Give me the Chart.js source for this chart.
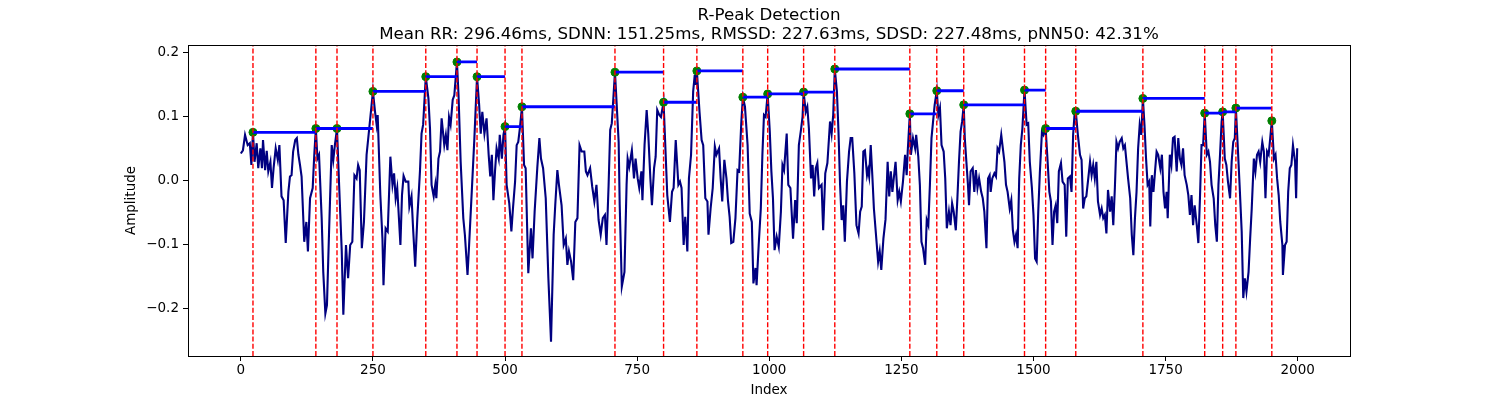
<!DOCTYPE html>
<html>
<head>
<meta charset="utf-8">
<script src="https://cdn.jsdelivr.net/npm/chart.js@4/dist/chart.umd.min.js"></script>
<style>
  html, body { margin: 0; padding: 0; background: #fff; }
  #wrap { width: 1500px; height: 400px; }
</style>
</head>
<body>
<div id="wrap"><canvas id="chart" width="1500" height="400"></canvas></div>
<script>
// filtered ECG trace, [index, amplitude]
const ecgSamples = [
  [0,0.043],[4,0.048],[8,0.072],[13,0.056],[17,0.059],[20,0.025],[23,0.076],[26,0.030],[30,0.059],[33,0.020],
  [37,0.051],[40,0.020],[42,0.064],[46,0.017],[49,0.047],[52,0.015],[56,0.030],[59,-0.011],[62,0.020],[66,0.051],
  [70,0.033],[73,0.056],[77,-0.024],[81,-0.030],[85,-0.097],[90,-0.017],[93,0.007],[96,0.009],[99,0.046],[103,0.064],
  [106,0.067],[109,0.041],[112,0.025],[115,0.007],[120,-0.095],[124,-0.064],[127,-0.110],[131,-0.027],[136,-0.011],[139,0.041],
  [142,0.082],[145,0.035],[148,0.041],[153,-0.058],[156,-0.142],[160,-0.207],[163,-0.194],[167,-0.079],[172,0.056],[175,0.033],
  [178,0.056],[182,0.082],[186,-0.006],[191,-0.110],[194,-0.209],[199,-0.100],[203,-0.152],[207,-0.100],[211,-0.095],[215,0.009],
  [219,0.004],[222,0.025],[225,0.017],[229,-0.105],[233,-0.064],[238,0.041],[243,0.082],[247,0.115],[250,0.140],[254,0.108],
  [257,0.088],[259,0.103],[264,-0.022],[268,-0.090],[270,-0.163],[274,-0.074],[278,-0.079],[283,0.038],[287,-0.006],[290,0.012],
  [293,-0.027],[296,-0.011],[302,-0.100],[305,-0.022],[308,0.008],[312,-0.001],[317,-0.001],[319,-0.040],[323,-0.024],[326,-0.074],
  [330,-0.134],[334,-0.058],[339,0.015],[342,0.074],[345,0.088],[350,0.163],[355,0.129],[358,0.082],[361,-0.006],[365,-0.024],
  [368,-0.006],[370,-0.027],[374,0.035],[377,0.046],[380,0.098],[385,0.056],[388,0.072],[391,0.048],[394,0.100],[397,0.088],
  [401,0.127],[404,0.134],[409,0.186],[412,0.134],[416,0.030],[421,-0.058],[424,-0.084],[429,-0.147],[432,-0.100],[437,-0.017],
  [442,0.067],[447,0.163],[451,0.119],[454,0.074],[457,0.108],[461,0.074],[465,0.098],[469,0.041],[472,0.007],[475,0.041],
  [478,-0.030],[481,0.015],[484,0.051],[488,0.035],[490,0.072],[494,0.035],[497,0.072],[500,0.085],[503,-0.006],[508,-0.035],
  [512,-0.079],[515,-0.043],[519,-0.001],[522,0.056],[525,0.061],[528,0.082],[532,0.116],[536,0.025],[539,0.020],[544,-0.144],
  [549,-0.074],[552,-0.121],[556,-0.048],[561,0.020],[565,0.067],[568,0.035],[572,0.020],[577,-0.027],[582,-0.152],[587,-0.251],
  [592,-0.084],[595,-0.038],[599,0.017],[602,-0.006],[607,-0.038],[611,-0.100],[615,-0.090],[618,-0.131],[621,-0.110],[625,-0.126],
  [629,-0.155],[633,-0.064],[637,-0.058],[641,0.056],[645,0.046],[650,0.046],[653,0.015],[656,0.009],[661,0.020],[665,-0.009],
  [669,-0.032],[673,-0.006],[677,-0.061],[681,-0.084],[685,-0.058],[689,-0.053],[692,-0.100],[696,-0.006],[699,0.080],[702,0.090],
  [708,0.170],[711,0.124],[715,0.061],[717,-0.038],[721,-0.165],[726,-0.142],[730,-0.006],[732,0.035],[735,0.022],[740,0.048],
  [744,0.004],[747,0.035],[751,0.004],[754,-0.011],[758,0.015],[760,-0.030],[764,0.056],[768,0.111],[771,0.074],[775,0.004],
  [778,-0.038],[782,0.020],[785,0.038],[788,0.111],[792,0.103],[795,0.100],[800,0.123],[803,0.061],[807,-0.022],[812,-0.064],
  [816,-0.017],[819,-0.011],[823,0.064],[828,-0.006],[831,-0.001],[834,-0.011],[838,-0.100],[841,-0.056],[845,-0.110],[848,0.004],
  [852,0.041],[856,0.140],[859,0.166],[861,0.150],[863,0.172],[868,0.108],[872,0.064],[875,0.056],[879,-0.027],[883,-0.032],
  [885,-0.084],[889,-0.043],[893,-0.011],[897,0.054],[900,0.041],[905,0.051],[908,0.004],[911,-0.032],[915,0.033],[919,0.004],
  [922,-0.032],[925,-0.056],[928,-0.097],[932,-0.095],[936,-0.058],[940,0.017],[943,0.015],[947,0.090],[950,0.131],[954,0.116],
  [959,0.056],[963,-0.051],[967,-0.064],[970,-0.160],[974,-0.136],[976,-0.163],[980,-0.100],[984,-0.043],[987,0.041],[990,0.103],
  [993,0.100],[997,0.136],[1001,0.077],[1004,0.015],[1007,-0.027],[1010,-0.108],[1014,-0.087],[1018,-0.103],[1022,-0.048],[1025,0.025],
  [1028,0.017],[1033,0.074],[1036,-0.006],[1040,-0.011],[1045,-0.090],[1049,-0.030],[1052,-0.066],[1056,0.056],[1060,0.080],[1063,0.100],
  [1065,0.139],[1069,0.108],[1072,0.116],[1075,0.082],[1079,0.004],[1082,0.025],[1085,-0.024],[1088,0.020],[1091,0.028],[1094,-0.011],
  [1099,-0.006],[1102,-0.077],[1106,0.012],[1110,0.028],[1115,0.093],[1118,0.074],[1121,0.103],[1124,0.175],[1128,0.140],[1131,0.077],
  [1134,-0.006],[1137,-0.061],[1140,-0.038],[1143,-0.095],[1147,-0.001],[1151,0.046],[1154,0.067],[1157,0.067],[1161,0.012],[1165,-0.069],
  [1169,-0.082],[1172,-0.048],[1175,-0.040],[1178,0.046],[1181,0.048],[1185,0.009],[1187,0.017],[1189,0.007],[1192,0.056],[1195,0.009],
  [1198,-0.043],[1203,-0.095],[1206,-0.126],[1209,-0.110],[1212,-0.139],[1216,-0.090],[1220,-0.060],[1224,0.030],[1227,-0.024],[1230,0.015],
  [1233,-0.017],[1236,0.007],[1239,0.030],[1243,-0.030],[1246,-0.017],[1249,-0.032],[1253,-0.001],[1257,0.041],[1260,0.009],[1262,0.046],
  [1266,0.105],[1268,0.041],[1272,0.067],[1276,0.051],[1278,0.072],[1282,0.038],[1285,-0.006],[1288,-0.095],[1291,-0.105],[1295,-0.131],
  [1298,-0.061],[1301,-0.069],[1304,-0.006],[1307,0.067],[1310,0.093],[1313,0.119],[1317,0.141],[1320,0.103],[1323,0.114],[1326,0.056],
  [1330,0.046],[1333,0.004],[1336,-0.074],[1340,-0.048],[1343,-0.069],[1346,-0.035],[1349,-0.048],[1353,-0.077],[1356,-0.027],[1359,0.030],
  [1362,0.077],[1365,0.093],[1368,0.119],[1370,0.067],[1373,0.030],[1376,-0.006],[1378,-0.038],[1381,0.015],[1385,0.020],[1388,-0.017],
  [1391,0.017],[1394,-0.011],[1397,0.004],[1401,-0.017],[1404,-0.027],[1407,-0.048],[1411,-0.105],[1414,0.004],[1417,0.009],[1419,-0.017],
  [1422,0.004],[1426,0.012],[1429,0.007],[1432,0.051],[1435,0.046],[1439,0.072],[1442,0.051],[1445,0.030],[1448,-0.006],[1451,-0.017],
  [1455,-0.043],[1458,-0.030],[1461,-0.077],[1464,-0.095],[1467,-0.084],[1470,-0.105],[1473,0.004],[1476,0.056],[1479,0.082],[1483,0.142],
  [1487,0.088],[1490,0.090],[1493,0.030],[1497,-0.011],[1500,-0.053],[1503,-0.121],[1506,-0.126],[1509,-0.048],[1512,0.012],[1516,0.077],
  [1519,0.072],[1523,0.082],[1526,0.041],[1530,-0.017],[1533,-0.032],[1536,-0.100],[1539,-0.048],[1542,-0.038],[1545,-0.066],[1548,0.015],
  [1552,0.028],[1555,-0.001],[1559,-0.006],[1562,-0.087],[1565,0.004],[1569,0.007],[1572,-0.017],[1575,0.072],[1578,0.108],[1580,0.109],
  [1584,0.072],[1588,0.041],[1591,0.033],[1594,-0.043],[1597,-0.027],[1600,-0.024],[1603,-0.001],[1607,0.030],[1610,0.009],[1613,0.025],
  [1616,0.004],[1619,0.030],[1622,-0.032],[1626,-0.053],[1629,-0.043],[1632,-0.058],[1635,-0.053],[1638,-0.082],[1641,-0.014],[1645,-0.048],
  [1648,-0.024],[1651,-0.069],[1654,-0.011],[1657,0.061],[1660,0.051],[1663,0.061],[1667,0.067],[1670,0.051],[1673,0.056],[1676,0.030],
  [1679,0.004],[1683,-0.027],[1686,-0.084],[1689,-0.116],[1692,-0.058],[1695,-0.017],[1698,0.051],[1701,0.088],[1704,0.072],[1707,0.129],
  [1710,0.088],[1713,0.035],[1716,-0.006],[1719,-0.001],[1721,-0.071],[1724,0.009],[1727,-0.017],[1730,0.015],[1733,0.046],[1736,0.041],
  [1740,0.020],[1743,0.041],[1746,-0.017],[1749,-0.043],[1752,-0.017],[1754,-0.058],[1758,0.041],[1761,0.025],[1764,0.067],[1767,0.069],
  [1771,0.015],[1774,0.067],[1777,0.035],[1780,0.025],[1783,0.051],[1786,0.009],[1790,-0.006],[1793,-0.022],[1796,-0.053],[1799,-0.022],
  [1802,-0.069],[1805,-0.038],[1809,-0.069],[1812,-0.097],[1815,-0.027],[1818,0.056],[1821,0.056],[1824,0.106],[1828,0.041],[1831,0.046],
  [1834,0.030],[1837,-0.006],[1841,-0.027],[1844,-0.069],[1847,-0.095],[1850,-0.006],[1853,0.041],[1856,0.093],[1858,0.108],[1862,0.035],
  [1865,0.025],[1868,-0.001],[1872,-0.027],[1875,0.030],[1878,0.061],[1881,0.067],[1883,0.114],[1887,0.046],[1890,-0.006],[1894,-0.079],
  [1897,-0.183],[1900,-0.152],[1903,-0.173],[1907,-0.142],[1910,-0.090],[1913,-0.043],[1917,0.035],[1920,0.015],[1923,0.041],[1926,0.046],
  [1929,0.030],[1933,0.061],[1936,0.046],[1939,-0.027],[1942,0.046],[1945,0.041],[1948,0.067],[1951,0.094],[1955,0.035],[1958,0.041],
  [1961,0.004],[1964,-0.022],[1967,-0.064],[1971,-0.100],[1972,-0.147],[1976,-0.100],[1979,-0.095],[1982,-0.017],[1985,0.020],[1988,0.025],
  [1991,0.056],[1995,0.030],[1997,-0.027],[1999,0.051]
];

// detected R-peaks
const peakIdx = [23, 142, 182, 250, 350, 409, 447, 500, 532, 708, 800, 863, 950, 997, 1065,
                 1124, 1266, 1317, 1368, 1483, 1523, 1580, 1707, 1824, 1858, 1883, 1951];
const peakAmp = [0.076, 0.082, 0.082, 0.140, 0.163, 0.186, 0.163, 0.085, 0.116, 0.170, 0.123, 0.172, 0.131, 0.136, 0.139,
                 0.175, 0.105, 0.141, 0.119, 0.142, 0.082, 0.109, 0.129, 0.106, 0.108, 0.114, 0.094];

const xTicks = [0, 250, 500, 750, 1000, 1250, 1500, 1750, 2000];
const yTicks = [-0.2, -0.1, 0.0, 0.1, 0.2];
const xRange = [-99.95, 2098.95];
const yRange = [-0.2735, 0.2125];

const titleLines = [
  "R-Peak Detection",
  "Mean RR: 296.46ms, SDNN: 151.25ms, RMSSD: 227.63ms, SDSD: 227.48ms, pNN50: 42.31%"
];

const FONT = "'DejaVu Sans', 'Liberation Sans', sans-serif";

// vertical dashed markers at every peak (axvline style), gaps between them
const vlinePts = [];
peakIdx.forEach(p => {
  vlinePts.push({ x: p, y: yRange[0] }, { x: p, y: yRange[1] }, { x: p, y: null });
});

// horizontal step from each peak to the next one, at that peak's amplitude
const hlinePts = [];
for (let i = 0; i < peakIdx.length - 1; i++) {
  hlinePts.push({ x: peakIdx[i], y: peakAmp[i] }, { x: peakIdx[i + 1], y: peakAmp[i] }, { x: peakIdx[i + 1], y: null });
}

// box around the plot area + title centred over the axes, like matplotlib
const framePlugin = {
  id: 'frame',
  afterDraw(chart) {
    const { ctx, chartArea: a } = chart;
    ctx.save();
    ctx.strokeStyle = '#000';
    ctx.lineWidth = 1;
    ctx.strokeRect(Math.round(a.left) + 0.5, Math.round(a.top) + 0.5,
                   Math.round(a.right - a.left), Math.round(a.bottom - a.top));
    ctx.fillStyle = '#000';
    ctx.font = "16.7px " + FONT;
    ctx.textAlign = 'center';
    ctx.textBaseline = 'middle';
    const cx = (a.left + a.right) / 2;
    ctx.fillText(titleLines[0], cx, 16);
    ctx.fillText(titleLines[1], cx, 34.5);
    ctx.restore();
  }
};

const fmtY = v => (v < 0 ? '\u2212' : '') + Math.abs(v).toFixed(1);

new Chart(document.getElementById('chart'), {
  type: 'line',
  data: {
    datasets: [
      {
        label: 'vlines',
        data: vlinePts,
        borderColor: '#ff0000',
        borderWidth: 1.4,
        borderDash: [5, 2.2],
        pointRadius: 0,
        spanGaps: false,
        order: 1
      },
      {
        label: 'hlines',
        data: hlinePts,
        borderColor: '#0000ff',
        borderWidth: 2.8,
        pointRadius: 0,
        spanGaps: false,
        order: 2
      },
      {
        label: 'peaks',
        data: peakIdx.map((p, i) => ({ x: p, y: peakAmp[i] })),
        showLine: false,
        pointRadius: 4,
        pointBackgroundColor: '#008000',
        pointBorderColor: '#008000',
        pointBorderWidth: 1,
        order: 3
      },
      {
        label: 'signal',
        data: ecgSamples.map(s => ({ x: s[0], y: s[1] })),
        borderColor: '#000080',
        borderWidth: 2.1,
        pointRadius: 0,
        tension: 0,
        order: 4
      }
    ]
  },
  options: {
    responsive: false,
    animation: false,
    events: [],
    layout: { padding: { left: 120, right: 150, top: 45, bottom: 0 } },
    plugins: {
      legend: { display: false },
      tooltip: { enabled: false },
      title: { display: false }
    },
    scales: {
      x: {
        type: 'linear',
        min: xRange[0],
        max: xRange[1],
        afterBuildTicks: s => { s.ticks = xTicks.map(v => ({ value: v })); },
        afterFit: s => { s.height = 44; },
        grid: { display: true, drawOnChartArea: false, drawTicks: true, tickLength: 5, color: '#000' },
        border: { display: false },
        ticks: { color: '#000', font: { family: FONT, size: 13.5 }, padding: 1, maxRotation: 0, callback: v => String(v) },
        title: { display: true, text: 'Index', color: '#000', font: { family: FONT, size: 13.5 }, padding: { top: 0, bottom: 1 } }
      },
      y: {
        type: 'linear',
        min: yRange[0],
        max: yRange[1],
        afterBuildTicks: s => { s.ticks = yTicks.map(v => ({ value: v })); },
        afterFit: s => { s.width = 68; },
        grid: { display: true, drawOnChartArea: false, drawTicks: true, tickLength: 5, color: '#000' },
        border: { display: false },
        ticks: { color: '#000', font: { family: FONT, size: 13.5 }, padding: 4, callback: v => fmtY(v) },
        title: { display: true, text: 'Amplitude', color: '#000', font: { family: FONT, size: 13.5 }, padding: { top: 3, bottom: 0 } }
      }
    }
  },
  plugins: [framePlugin]
});
</script>
</body>
</html>
